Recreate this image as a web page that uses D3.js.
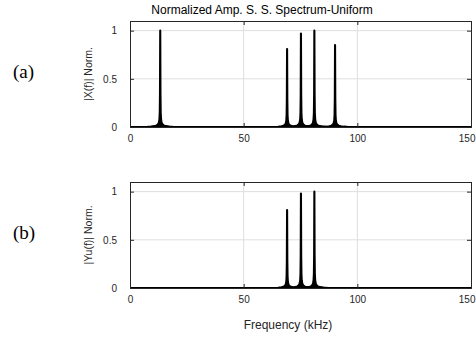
<!DOCTYPE html>
<html><head><meta charset="utf-8">
<script src="https://cdn.jsdelivr.net/npm/d3@7"></script>
<style>
html,body{margin:0;padding:0;background:#fff;}
svg{display:block;}
</style></head><body>
<svg id="chart" width="476" height="339"></svg>
<script>
// ---- data ----
const title = "Normalized Amp. S. S. Spectrum-Uniform";
const xLabel = "Frequency (kHz)";
const xTicks = [0, 50, 100, 150];
const yTicks = [0, 0.5, 1];
const yTickLabels = ["0", "0.5", "1"];
const panelLetters = ["(a)", "(b)"];
const yLabels = ["|X(f)| Norm.", "|Yu(f)| Norm."];
// spectral lines (kHz) and normalized amplitudes
const peakFreqA = [13.3, 69.1, 75.2, 81.1, 90.2];
const peakAmpA  = [1.0, 0.81, 0.97, 1.0, 0.85];
const peakFreqB = [69.1, 75.2, 81.1];
const peakAmpB  = [0.81, 0.98, 1.0];
// hand-read line-shape skirt: offset from line centre (kHz) and relative level
const skirtOffset = [0, 0.1, 0.2, 0.35, 0.6, 1.0, 1.6, 2.5, 4.0, 6.0];
const skirtLevel  = [1, 0.35, 0.15, 0.08, 0.045, 0.028, 0.016, 0.009, 0.004, 0.0];

const SANS = "'Liberation Sans',Arial,Helvetica,sans-serif";
const SERIF = "'Liberation Serif','Times New Roman',serif";
const svg = d3.select("#chart");
const W = 476;
const left = 130, right = 471;
const panels = [
  {top: 21, bottom: 127, freqs: peakFreqA, amps: peakAmpA},
  {top: 182, bottom: 288, freqs: peakFreqB, amps: peakAmpB}
];
const x = d3.scaleLinear().domain([0, 150]).range([left, right]);
const skirt = d3.scaleLinear().domain(skirtOffset).range(skirtLevel).clamp(true);

function buildSeries(freqs, amps) {
  const pts = new Set([0, 150]);
  freqs.forEach(f => skirtOffset.forEach(o => { pts.add(f - o); pts.add(f + o); }));
  const xs = Array.from(pts).filter(v => v >= 0 && v <= 150).sort((a, b) => a - b);
  return xs.map(v => {
    let val = 0;
    freqs.forEach((f, i) => { val = Math.max(val, amps[i] * skirt(Math.abs(v - f))); });
    return [v, val];
  });
}

// title
svg.append("text").attr("x", 262).attr("y", 14).attr("text-anchor", "middle")
  .style("font-family", SANS).style("font-size", "12px").attr("fill", "#000").text(title);

panels.forEach((p, pi) => {
  const y = d3.scaleLinear().domain([0, 1.1]).range([p.bottom, p.top]);
  const g = svg.append("g");
  // grid
  g.selectAll(".gx").data(xTicks.slice(1, -1)).join("line")
    .attr("x1", d => x(d)).attr("x2", d => x(d)).attr("y1", p.top).attr("y2", p.bottom)
    .attr("stroke", "#dedede").attr("stroke-width", 1);
  g.selectAll(".gy").data(yTicks.slice(1)).join("line")
    .attr("x1", left).attr("x2", right).attr("y1", d => y(d)).attr("y2", d => y(d))
    .attr("stroke", "#dedede").attr("stroke-width", 1);

  const series = buildSeries(p.freqs, p.amps);
  const area = d3.area().x(d => x(d[0])).y0(y(0)).y1(d => y(d[1]));
  const line = d3.line().x(d => x(d[0])).y(d => y(d[1]));
  g.append("path").datum(series).attr("d", area).attr("fill", "#000");
  g.append("path").datum(series).attr("d", line).attr("fill", "none")
    .attr("stroke", "#000").attr("stroke-width", 2.1).attr("stroke-linejoin", "round");

  // axes (MATLAB style, inward ticks, box)
  const axB = d3.axisBottom(x).tickValues(xTicks).tickSize(-4).tickPadding(8).tickFormat(d3.format("d"));
  const axT = d3.axisTop(x).tickValues(xTicks).tickSize(-4).tickFormat("");
  const axL = d3.axisLeft(y).tickValues(yTicks).tickSize(-4).tickPadding(13).tickFormat((d, i) => yTickLabels[i]);
  const axR = d3.axisRight(y).tickValues(yTicks).tickSize(-4).tickFormat("");
  [[axB, `translate(0,${p.bottom})`], [axT, `translate(0,${p.top})`],
   [axL, `translate(${left},0)`], [axR, `translate(${right},0)`]].forEach(([ax, tr]) => {
    const a = g.append("g").attr("transform", tr).call(ax);
    a.select(".domain").attr("stroke", "#262626").attr("stroke-width", 1);
    a.selectAll(".tick line").attr("stroke", "#262626");
    a.selectAll("text").attr("fill", "#262626")
      .style("font-family", SANS).style("font-size", "10px");
  });
  // keep the last x tick label inside the window
  g.selectAll("text").filter(function(){ return this.textContent === String(xTicks[xTicks.length-1]); })
    .attr("text-anchor", "end").attr("x", (W - 1) - right);

  // y label
  const cy = (p.top + p.bottom) / 2;
  svg.append("text").attr("transform", `translate(92,${cy}) rotate(-90)`)
    .attr("text-anchor", "middle").attr("fill", "#262626")
    .style("font-family", SANS).style("font-size", "10.5px").text(yLabels[pi]);
  // panel letter
  svg.append("text").attr("x", 13).attr("y", cy + 4).attr("fill", "#000")
    .style("font-family", SERIF).style("font-size", "19px").text(panelLetters[pi]);
});

svg.append("text").attr("x", 288).attr("y", 329).attr("text-anchor", "middle")
  .attr("fill", "#262626").style("font-family", SANS).style("font-size", "12px").text(xLabel);
</script>
</body></html>
